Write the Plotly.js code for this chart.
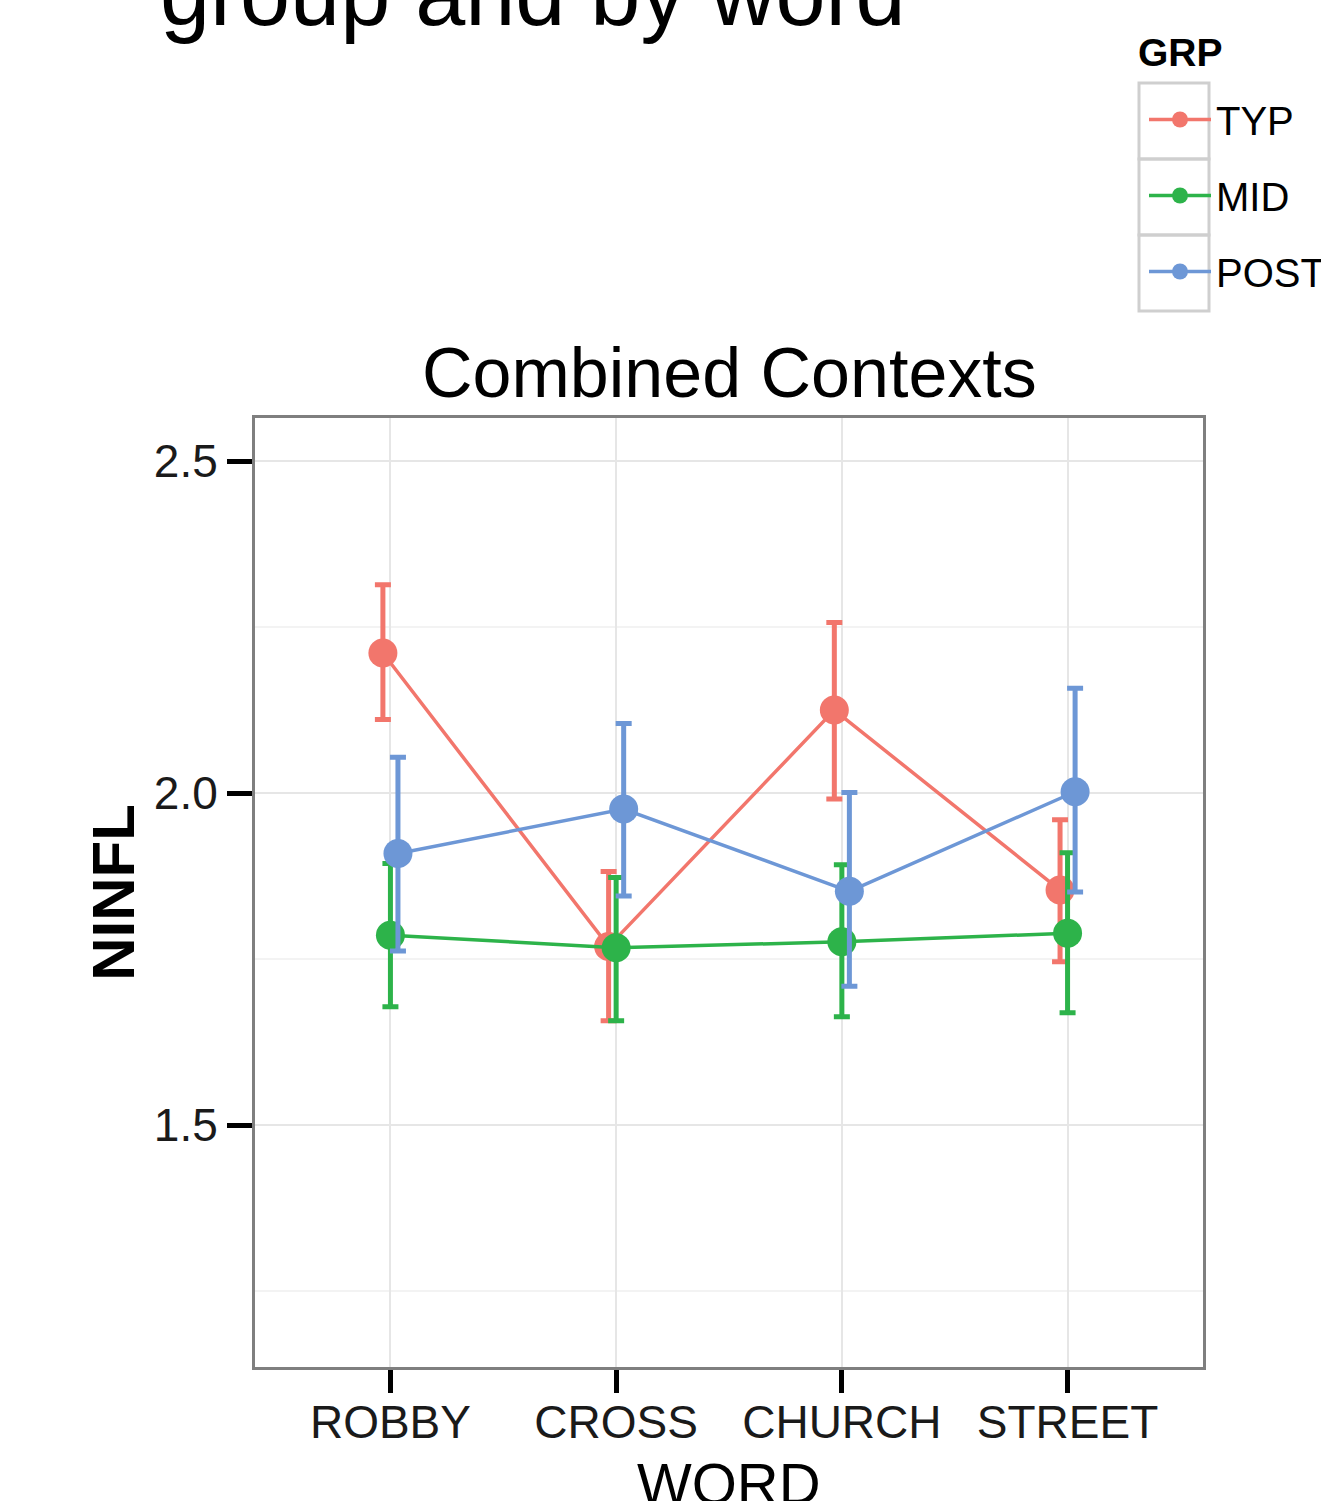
<!DOCTYPE html>
<html>
<head>
<meta charset="utf-8">
<script src="https://cdn.plot.ly/plotly-3.0.1.min.js"></script>
<style>html,body{margin:0;padding:0;background:#fff;}#chart{width:1321px;height:1501px;}</style>
</head>
<body>
<div id="chart"></div>
<script>
// ---- data ----
const WORDS = ['ROBBY', 'CROSS', 'CHURCH', 'STREET'];
const GROUPS = ['TYP', 'MID', 'POST'];

const TYP_MEAN  = [2.211, 1.769, 2.125, 1.854];
const TYP_UPPER = [2.314, 1.882, 2.257, 1.960];
const TYP_LOWER = [2.111, 1.657, 1.991, 1.746];

const MID_MEAN  = [1.786, 1.767, 1.776, 1.789];
const MID_UPPER = [1.894, 1.873, 1.892, 1.910];
const MID_LOWER = [1.678, 1.657, 1.663, 1.669];

const POST_MEAN  = [1.909, 1.976, 1.852, 2.002];
const POST_UPPER = [2.054, 2.105, 2.001, 2.158];
const POST_LOWER = [1.762, 1.845, 1.709, 1.851];

const Y_TICKS = [1.5, 2.0, 2.5];
const Y_TICK_LABELS = ['1.5', '2.0', '2.5'];

// ---- styling ----
const COLORS = {TYP: '#F2766C', MID: '#2DB34A', POST: '#6D97D6'};
const DODGE = 0.1; // total dodge width (ggplot position_dodge)
const FONT = 'Liberation Sans, Arial, Helvetica, sans-serif';

const series = {
  TYP: [TYP_MEAN, TYP_UPPER, TYP_LOWER],
  MID: [MID_MEAN, MID_UPPER, MID_LOWER],
  POST: [POST_MEAN, POST_UPPER, POST_LOWER]
};

const traces = GROUPS.map((g, gi) => {
  const [mean, up, lo] = series[g];
  const off = (gi - (GROUPS.length - 1) / 2) * DODGE / GROUPS.length;
  return {
    type: 'scatter',
    mode: 'lines+markers',
    name: g,
    legendgroup: g,
    x: WORDS.map((_, i) => i + off),
    y: mean,
    line: {color: COLORS[g], width: 3.5},
    marker: {color: COLORS[g], size: 29},
    error_y: {
      type: 'data', symmetric: false,
      array: up.map((v, i) => v - mean[i]),
      arrayminus: lo.map((v, i) => mean[i] - v),
      color: COLORS[g], thickness: 5, width: 8
    },
    hoverinfo: 'x+y+name'
  };
});

const L = 255, R = 1203, T = 418, B = 1367;
const pw = R - L, ph = B - T;
const px = x => (x - L) / pw;
const py = y => (B - y) / ph;

const keyBoxes = [[83, 159], [159, 235], [235, 311]].map(([a, b]) => ({
  type: 'rect', xref: 'paper', yref: 'paper',
  x0: px(1139), x1: px(1209), y0: py(b), y1: py(a),
  line: {color: '#CFCFCF', width: 3}, fillcolor: 'rgba(0,0,0,0)', layer: 'below'
}));

const layout = {
  width: 1321, height: 1501,
  margin: {l: L, r: 1321 - R, t: T, b: 1501 - B, pad: 0, autoexpand: false},
  paper_bgcolor: '#ffffff', plot_bgcolor: '#ffffff',
  font: {family: FONT, color: '#000'},
  showlegend: true,
  legend: {
    x: px(1144), xanchor: 'left', y: py(87), yanchor: 'top',
    bgcolor: 'rgba(0,0,0,0)', borderwidth: 0,
    font: {size: 40, family: FONT, color: '#000'},
    tracegroupgap: 21, itemwidth: 62
  },
  xaxis: {
    range: [-0.6, 3.6],
    tickmode: 'array', tickvals: WORDS.map((_, i) => i), ticktext: WORDS,
    ticks: 'outside', ticklen: 23, tickwidth: 5, tickcolor: '#000',
    ticklabelstandoff: -10,
    tickfont: {size: 46, family: FONT, color: '#1a1a1a'},
    showgrid: true, gridcolor: '#E6E6E6', gridwidth: 2,
    showline: true, linecolor: '#7F7F7F', linewidth: 3, mirror: true,
    zeroline: false
  },
  yaxis: {
    range: [1.1355, 2.565],
    tickmode: 'array', tickvals: Y_TICKS, ticktext: Y_TICK_LABELS,
    ticks: 'outside', ticklen: 25, tickwidth: 5, tickcolor: '#000',
    tickfont: {size: 46, family: FONT, color: '#1a1a1a'},
    showgrid: true, gridcolor: '#E6E6E6', gridwidth: 2,
    minor: {dtick: 0.25, tick0: 0, showgrid: true, gridcolor: '#F3F3F3', gridwidth: 2, ticks: ''},
    showline: true, linecolor: '#7F7F7F', linewidth: 3, mirror: true,
    zeroline: false,
    title: {text: '<b>NINFL</b>', font: {size: 60, family: FONT, color: '#000'}, standoff: 0}
  },
  shapes: keyBoxes,
  annotations: [
    {text: 'group and by word', xref: 'paper', yref: 'paper', x: px(158), y: py(46),
     xanchor: 'left', yanchor: 'bottom', showarrow: false,
     font: {size: 90, family: FONT, color: '#000'}},
    {text: 'Combined Contexts', xref: 'paper', yref: 'paper', x: 0.5, y: py(414),
     xanchor: 'center', yanchor: 'bottom', showarrow: false,
     font: {size: 70, family: FONT, color: '#000'}},
    {text: '<b>GRP</b>', xref: 'paper', yref: 'paper', x: px(1136), y: py(52),
     xanchor: 'left', yanchor: 'middle', showarrow: false,
     font: {size: 39, family: FONT, color: '#000'}},
    {text: 'WORD', xref: 'paper', yref: 'paper', x: 0.5, y: py(1449),
     xanchor: 'center', yanchor: 'top', showarrow: false,
     font: {size: 58, family: FONT, color: '#000'}}
  ]
};

Plotly.newPlot('chart', traces, layout, {displayModeBar: false, staticPlot: true});
</script>
</body>
</html>
